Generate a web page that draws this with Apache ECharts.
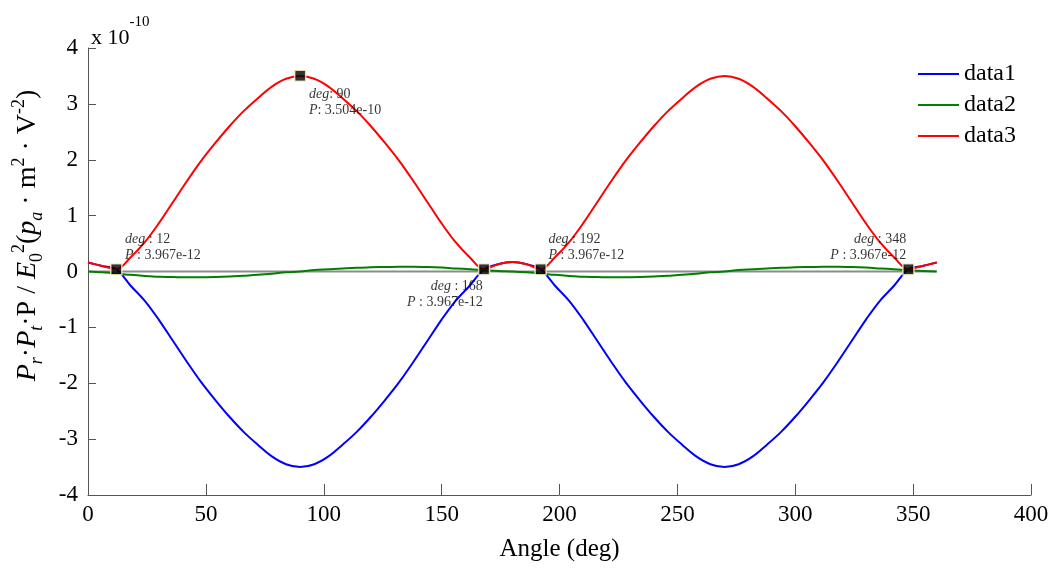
<!DOCTYPE html>
<html>
<head>
<meta charset="utf-8">
<script src="https://cdn.jsdelivr.net/npm/echarts@6/dist/echarts.min.js"></script>
<style>
  html, body { margin: 0; padding: 0; background: #fff; }
  #chart { width: 1061px; height: 570px; }
</style>
</head>
<body>
<div id="chart"></div>
<script>
// angle in degrees (x axis)
var angles = [0, 6, 12, 18, 24, 30, 36, 42, 48, 54, 60, 66, 72, 78, 84, 90,
  96, 102, 108, 114, 120, 126, 132, 138, 144, 150, 156, 162, 168, 174, 180,
  186, 192, 198, 204, 210, 216, 222, 228, 234, 240, 246, 252, 258, 264, 270,
  276, 282, 288, 294, 300, 306, 312, 318, 324, 330, 336, 342, 348, 354, 360];

// values in units of 1e-10
var data1 = [0.16, 0.10, 0.04, -0.25, -0.52, -0.86, -1.24, -1.62, -1.98, -2.30, -2.60, -2.87, -3.10, -3.31, -3.45, -3.50,
  -3.45, -3.31, -3.10, -2.87, -2.60, -2.30, -1.98, -1.62, -1.24, -0.86, -0.52, -0.25, 0.04, 0.13, 0.17,
  0.13, 0.04, -0.25, -0.52, -0.86, -1.24, -1.62, -1.98, -2.30, -2.60, -2.87, -3.10, -3.31, -3.45, -3.50,
  -3.45, -3.31, -3.10, -2.87, -2.60, -2.30, -1.98, -1.62, -1.24, -0.86, -0.52, -0.25, 0.04, 0.10, 0.16];

var data2 = [0, -0.015, -0.035, -0.06, -0.08, -0.095, -0.10, -0.105, -0.105, -0.10, -0.09, -0.075, -0.06, -0.04, -0.015, 0,
  0.025, 0.04, 0.055, 0.065, 0.075, 0.08, 0.085, 0.085, 0.08, 0.07, 0.055, 0.04, 0.025, 0.01, 0,
  -0.015, -0.035, -0.06, -0.08, -0.095, -0.10, -0.105, -0.105, -0.10, -0.09, -0.075, -0.06, -0.04, -0.015, 0,
  0.025, 0.04, 0.055, 0.065, 0.075, 0.08, 0.085, 0.085, 0.08, 0.07, 0.055, 0.04, 0.025, 0.01, 0];

var data3 = [0.16, 0.10, 0.04, 0.25, 0.52, 0.86, 1.24, 1.62, 1.98, 2.30, 2.60, 2.87, 3.10, 3.31, 3.45, 3.50,
  3.45, 3.31, 3.10, 2.87, 2.60, 2.30, 1.98, 1.62, 1.24, 0.86, 0.52, 0.25, 0.04, 0.13, 0.17,
  0.13, 0.04, 0.25, 0.52, 0.86, 1.24, 1.62, 1.98, 2.30, 2.60, 2.87, 3.10, 3.31, 3.45, 3.50,
  3.45, 3.31, 3.10, 2.87, 2.60, 2.30, 1.98, 1.62, 1.24, 0.86, 0.52, 0.25, 0.04, 0.10, 0.16];

// data tips
var tipDeg = [12, 90, 168, 192, 348];
var tipVal = [0.03967, 3.504, 0.03967, 0.03967, 0.03967];
var tipText = ['3.967e-12', '3.504e-10', '3.967e-12', '3.967e-12', '3.967e-12'];
var tipSep = [' : ', ': ', ' : ', ' : ', ' : '];

var xTicks = [0, 400, 50];
var yTicks = [-4, 4, 1];

function pairs(ys) {
  return angles.map(function (a, i) { return [a, ys[i]]; });
}

var serif = '"Liberation Serif", "Times New Roman", serif';
var axisGray = '#555555';

// label placement per tip (relative to the marker box)
var tipLabelPos = [
  { position: [15, -32], align: 'left' },
  { position: [15, 17], align: 'left' },
  { position: [5, 15], align: 'right' },
  { position: [14, -32], align: 'left' },
  { position: [4, -32], align: 'right' }
];

var tipData = tipDeg.map(function (d, i) {
  return {
    value: [d, tipVal[i]],
    label: {
      show: true,
      position: tipLabelPos[i].position,
      align: tipLabelPos[i].align,
      verticalAlign: 'top',
      formatter: '{it|deg}{n|' + tipSep[i] + d + '}\n{it|P}{n|' + tipSep[i] + tipText[i] + '}'
    }
  };
});

var chart = echarts.init(document.getElementById('chart'));
chart.setOption({
  animation: false,
  backgroundColor: '#fff',
  grid: { left: 88, right: 30, top: 48, bottom: 75, containLabel: false },
  title: {
    text: '{a|x 10}{b|-10}',
    left: 86,
    top: 10,
    textStyle: {
      fontWeight: 'normal',
      rich: {
        a: { fontFamily: serif, fontSize: 22, fontWeight: 'normal', color: '#000', verticalAlign: 'bottom', lineHeight: 34 },
        b: { fontFamily: serif, fontSize: 15, fontWeight: 'normal', color: '#000', verticalAlign: 'top', lineHeight: 34 }
      }
    }
  },
  legend: {
    orient: 'vertical',
    left: 912,
    top: 57,
    itemWidth: 41,
    itemHeight: 14,
    itemGap: 7,
    itemStyle: { opacity: 0 },
    textStyle: { fontFamily: serif, fontSize: 24, color: '#000', lineHeight: 22 },
    data: ['data1', 'data2', 'data3']
  },
  xAxis: {
    type: 'value',
    min: xTicks[0],
    max: xTicks[1],
    interval: xTicks[2],
    name: 'Angle (deg)',
    nameLocation: 'middle',
    nameGap: 42,
    nameTextStyle: { fontFamily: serif, fontSize: 25, color: '#000' },
    axisLine: { onZero: false, lineStyle: { color: axisGray, width: 1 } },
    axisTick: { inside: true, length: 11, lineStyle: { color: axisGray } },
    axisLabel: { fontFamily: serif, fontSize: 23, color: '#000', margin: 8 },
    splitLine: { show: false }
  },
  yAxis: {
    type: 'value',
    min: yTicks[0],
    max: yTicks[1],
    interval: yTicks[2],
    name: '{i|P}{si|r}{n|·}{i|P}{si|t}{n|·P / }{i|E}{sn|0}{sp|2}{n|(}{i|p}{si|a}{n| · m}{sp|2}{n| · V}{sp|-2}{n|)}',
    nameLocation: 'middle',
    nameGap: 42,
    nameRotate: 90,
    nameTextStyle: {
      padding: [0, 0, 0, 72],
      rich: {
        i: { fontFamily: serif, fontSize: 28, fontStyle: 'italic', color: '#000', lineHeight: 36 },
        n: { fontFamily: serif, fontSize: 28, color: '#000', lineHeight: 36 },
        si: { fontFamily: serif, fontSize: 18, fontStyle: 'italic', color: '#000', lineHeight: 36, verticalAlign: 'bottom' },
        sn: { fontFamily: serif, fontSize: 18, color: '#000', lineHeight: 36, verticalAlign: 'bottom' },
        sp: { fontFamily: serif, fontSize: 18, color: '#000', lineHeight: 36, verticalAlign: 'top' }
      }
    },
    axisLine: { onZero: false, lineStyle: { color: axisGray, width: 1 } },
    axisTick: { inside: true, length: 8, lineStyle: { color: axisGray } },
    axisLabel: { fontFamily: serif, fontSize: 23, color: '#000', margin: 10 },
    splitLine: { show: false }
  },
  series: [
    {
      name: 'zero',
      type: 'line',
      data: [[angles[0], 0], [angles[angles.length - 1], 0]],
      symbol: 'none',
      silent: true,
      lineStyle: { color: '#8c8c8c', width: 2 },
      z: 1
    },
    {
      name: 'data1',
      type: 'line',
      data: pairs(data1),
      symbol: 'none',
      smooth: 0.35,
      itemStyle: { color: '#0000ff' },
      lineStyle: { color: '#0000ff', width: 2 },
      z: 2
    },
    {
      name: 'data2',
      type: 'line',
      data: pairs(data2),
      symbol: 'none',
      smooth: 0.35,
      itemStyle: { color: '#007f00' },
      lineStyle: { color: '#007f00', width: 2 },
      z: 3
    },
    {
      name: 'data3',
      type: 'line',
      data: pairs(data3),
      symbol: 'none',
      smooth: 0.35,
      itemStyle: { color: '#ff0000' },
      lineStyle: { color: '#ff0000', width: 2 },
      z: 4
    },
    {
      name: 'tips',
      type: 'scatter',
      data: tipData,
      symbol: 'rect',
      symbolSize: 11,
      itemStyle: { color: '#000', borderColor: '#fff6c8', borderWidth: 1.5 },
      label: {
        rich: {
          it: { fontFamily: serif, fontSize: 14, fontStyle: 'italic', color: '#000', lineHeight: 16 },
          n: { fontFamily: serif, fontSize: 14, color: '#000', lineHeight: 16 }
        }
      },
      z: 5
    }
  ]
});
</script>
</body>
</html>
